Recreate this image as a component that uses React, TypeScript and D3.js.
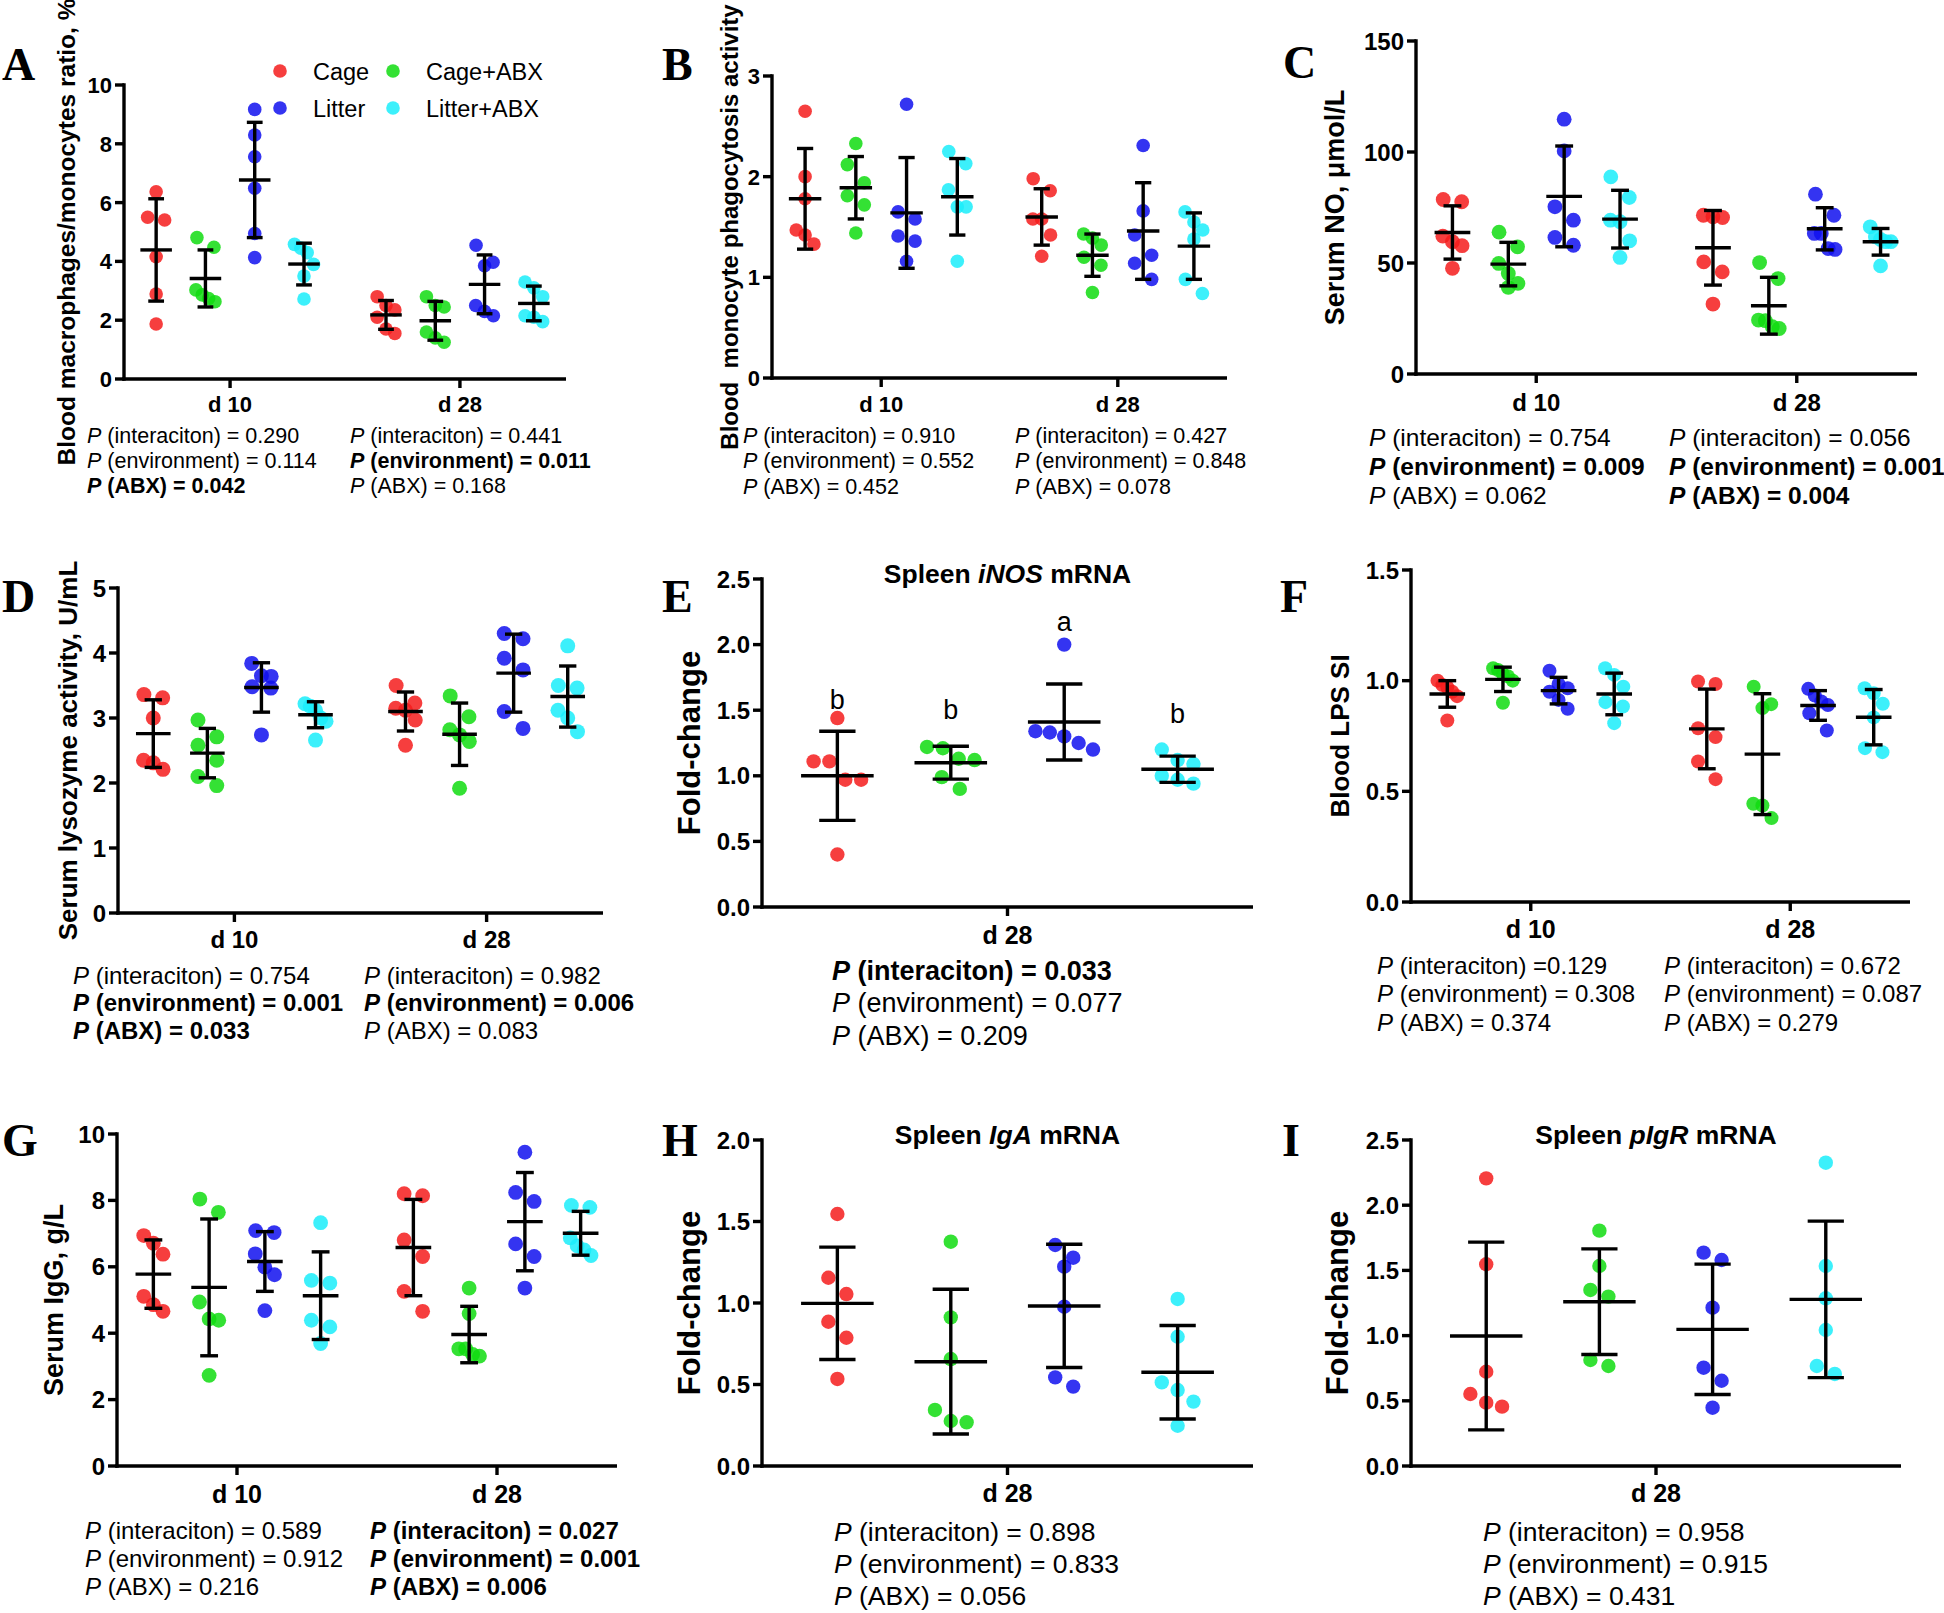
import React from "react";
import * as d3 from "d3";

// ---------- categories ----------
const groups = ["Cage", "Cage+ABX", "Litter", "Litter+ABX"];
const groupColors = ["#f41c1c", "#10dc10", "#1010ee", "#1aedfa"];
const daysTwo = ["d 10", "d 28"];
const daysOne = ["d 28"];

// ---------- A: blood macrophages/monocytes ratio ----------
const A_d10 = [
  [6.37, 5.5, 5.41, 4.16, 2.89, 1.87],
  [4.81, 4.48, 3.03, 2.86, 2.74, 2.63],
  [9.17, 8.3, 7.56, 6.49, 4.95, 4.13],
  [4.58, 4.45, 4.3, 3.9, 3.5, 2.72],
];
const A_d28 = [
  [2.8, 2.5, 2.35, 2.1, 1.7, 1.55],
  [2.8, 2.5, 2.45, 1.6, 1.4, 1.25],
  [4.55, 3.97, 3.85, 2.5, 2.3, 2.15],
  [3.3, 3.1, 2.8, 2.15, 2.1, 1.95],
];
const A_mean = [[4.39, 3.42, 6.77, 3.91], [2.18, 1.98, 3.22, 2.57]];
const A_sd = [[1.74, 0.97, 1.96, 0.71], [0.49, 0.66, 1.0, 0.59]];
const A_p10 = [["(interaciton) = 0.290", false], ["(environment) = 0.114", false], ["(ABX) = 0.042", true]];
const A_p28 = [["(interaciton) = 0.441", false], ["(environment) = 0.011", true], ["(ABX) = 0.168", false]];

// ---------- B: blood monocyte phagocytosis ----------
const B_d10 = [
  [2.65, 2.0, 1.78, 1.47, 1.42, 1.33],
  [2.33, 2.12, 1.94, 1.81, 1.72, 1.44],
  [2.72, 1.65, 1.58, 1.41, 1.36, 1.16],
  [2.25, 2.13, 1.87, 1.7, 1.7, 1.16],
];
const B_d28 = [
  [1.98, 1.86, 1.58, 1.58, 1.42, 1.21],
  [1.43, 1.39, 1.32, 1.2, 1.12, 0.85],
  [2.31, 1.66, 1.42, 1.22, 1.14, 0.98],
  [1.65, 1.55, 1.47, 1.38, 0.98, 0.84],
];
const B_mean = [[1.78, 1.89, 1.64, 1.8], [1.6, 1.22, 1.46, 1.31]];
const B_sd = [[0.5, 0.31, 0.55, 0.38], [0.28, 0.21, 0.48, 0.33]];
const B_p10 = [["(interaciton) = 0.910", false], ["(environment) = 0.552", false], ["(ABX) = 0.452", false]];
const B_p28 = [["(interaciton) = 0.427", false], ["(environment) = 0.848", false], ["(ABX) = 0.078", false]];

// ---------- C: serum NO ----------
const C_d10 = [
  [78.6, 77.6, 62.1, 59.6, 57.8, 47.6],
  [63.9, 57.3, 49.8, 45.3, 40.8, 39.0],
  [114.8, 100.5, 75.3, 69.3, 61.5, 58.0],
  [88.8, 79.5, 69.3, 68.6, 60.0, 52.5],
];
const C_d28 = [
  [71.5, 70.8, 70.5, 50.5, 46.0, 31.5],
  [50.2, 43.0, 24.3, 24.0, 21.3, 20.5],
  [81.0, 71.5, 63.3, 63.3, 56.5, 56.1],
  [66.3, 61.8, 60.6, 59.6, 59.6, 48.7],
];
const C_mean = [[63.75, 49.5, 80.0, 69.75], [56.85, 30.75, 65.4, 59.55]];
const C_sd = [[12.0, 9.8, 22.7, 13.0], [16.8, 12.8, 9.5, 6.0]];
const C_p10 = [["(interaciton) = 0.754", false], ["(environment) = 0.009", true], ["(ABX) = 0.062", false]];
const C_p28 = [["(interaciton) = 0.056", false], ["(environment) = 0.001", true], ["(ABX) = 0.004", true]];

// ---------- D: serum lysozyme ----------
const D_d10 = [
  [3.36, 3.31, 3.0, 2.35, 2.31, 2.21],
  [2.97, 2.71, 2.58, 2.35, 2.1, 1.96],
  [3.84, 3.65, 3.64, 3.48, 3.46, 2.74],
  [3.22, 3.18, 3.12, 3.0, 2.95, 2.66],
];
const D_d28 = [
  [3.5, 3.23, 3.15, 3.12, 2.97, 2.58],
  [3.34, 3.02, 2.82, 2.74, 2.64, 1.92],
  [4.3, 4.22, 3.92, 3.74, 3.1, 2.84],
  [4.11, 3.5, 3.46, 3.12, 3.0, 2.79],
];
const D_mean = [[2.76, 2.46, 3.47, 3.05], [3.1, 2.75, 3.69, 3.33]];
const D_sd = [[0.52, 0.38, 0.38, 0.2], [0.3, 0.48, 0.6, 0.47]];
const D_p10 = [["(interaciton) = 0.754", false], ["(environment) = 0.001", true], ["(ABX) = 0.033", true]];
const D_p28 = [["(interaciton) = 0.982", false], ["(environment) = 0.006", true], ["(ABX) = 0.083", false]];

// ---------- E: spleen iNOS ----------
const E_values = [
  [1.44, 1.11, 1.11, 0.97, 0.97, 0.4],
  [1.22, 1.21, 1.13, 1.12, 0.99, 0.9],
  [2.0, 1.34, 1.33, 1.3, 1.25, 1.2],
  [1.2, 1.12, 1.09, 1.0, 0.97, 0.94],
];
const E_mean = [1.0, 1.1, 1.41, 1.05];
const E_sd = [0.34, 0.125, 0.29, 0.1];
const E_letters = ["b", "b", "a", "b"];
const E_letterValues = [1.58, 1.5, 2.17, 1.47];
const E_p = [["(interaciton) = 0.033", true], ["(environment) = 0.077", false], ["(ABX) = 0.209", false]];

// ---------- F: blood LPS SI ----------
const F_d10 = [
  [1.0, 0.98, 0.97, 0.95, 0.93, 0.82],
  [1.056, 1.048, 1.03, 1.02, 1.0, 0.9],
  [1.045, 0.985, 0.966, 0.95, 0.913, 0.873],
  [1.056, 1.026, 0.973, 0.903, 0.883, 0.808],
];
const F_d28 = [
  [0.996, 0.985, 0.785, 0.745, 0.635, 0.555],
  [0.973, 0.894, 0.876, 0.444, 0.436, 0.379],
  [0.963, 0.933, 0.906, 0.89, 0.853, 0.775],
  [0.966, 0.943, 0.896, 0.834, 0.695, 0.677],
];
const F_mean = [[0.94, 1.006, 0.955, 0.94], [0.782, 0.668, 0.888, 0.835]];
const F_sd = [[0.06, 0.055, 0.06, 0.094], [0.18, 0.273, 0.067, 0.125]];
const F_p10 = [["(interaciton) =0.129", false], ["(environment) = 0.308", false], ["(ABX) = 0.374", false]];
const F_p28 = [["(interaciton) = 0.672", false], ["(environment) = 0.087", false], ["(ABX) = 0.279", false]];

// ---------- G: serum IgG ----------
const G_d10 = [
  [6.94, 6.71, 6.38, 5.11, 4.86, 4.66],
  [8.04, 7.64, 4.94, 4.43, 4.39, 2.73],
  [7.09, 7.03, 6.39, 5.99, 5.76, 4.68],
  [7.33, 5.59, 5.51, 4.39, 4.19, 3.69],
];
const G_d28 = [
  [8.2, 8.14, 6.81, 6.31, 5.26, 4.66],
  [5.36, 4.59, 3.53, 3.53, 3.36, 3.31],
  [9.45, 8.24, 7.97, 6.69, 6.31, 5.36],
  [7.85, 7.79, 6.87, 6.63, 6.51, 6.34],
];
const G_mean = [[5.78, 5.38, 6.16, 5.13], [6.58, 3.96, 7.36, 7.01]];
const G_sd = [[1.03, 2.06, 0.9, 1.32], [1.45, 0.85, 1.48, 0.66]];
const G_p10 = [["(interaciton) = 0.589", false], ["(environment) = 0.912", false], ["(ABX) = 0.216", false]];
const G_p28 = [["(interaciton) = 0.027", true], ["(environment) = 0.001", true], ["(ABX) = 0.006", true]];

// ---------- H: spleen IgA ----------
const H_values = [
  [1.546, 1.155, 1.055, 0.885, 0.787, 0.534],
  [1.376, 0.912, 0.656, 0.344, 0.276, 0.268],
  [1.356, 1.278, 1.223, 0.977, 0.544, 0.487],
  [1.025, 0.793, 0.513, 0.466, 0.395, 0.247],
];
const H_mean = [0.998, 0.64, 0.982, 0.575];
const H_sd = [0.345, 0.444, 0.378, 0.287];
const H_p = [["(interaciton) = 0.898", false], ["(environment) = 0.833", false], ["(ABX) = 0.056", false]];

// ---------- I: spleen pIgR ----------
const I_values = [
  [2.206, 1.547, 0.723, 0.552, 0.486, 0.455],
  [1.805, 1.534, 1.35, 1.299, 0.813, 0.767],
  [1.636, 1.58, 1.214, 0.754, 0.654, 0.447],
  [2.326, 1.534, 1.286, 1.043, 0.767, 0.706],
];
const I_mean = [0.997, 1.26, 1.048, 1.278];
const I_sd = [0.72, 0.405, 0.5, 0.6];
const I_p = [["(interaciton) = 0.958", false], ["(environment) = 0.915", false], ["(ABX) = 0.431", false]];

// ---------- panel table (built from the arrays above + layout) ----------
type PLine = [string, boolean];
type Panel = {
  id: string;
  days: string[];
  values: number[][][];
  mean: number[][];
  sd: number[][];
  yMax: number;
  tickStep: number;
  fmt: string;
  yLabel: string;
  p: PLine[][];
  title?: string[];
  letters?: string[];
  letterValues?: number[];
  L: any;
};

const panels: Panel[] = [
  {
    id: "A", days: daysTwo, values: [A_d10, A_d28], mean: A_mean, sd: A_sd, yMax: 10, tickStep: 2, fmt: "d",
    yLabel: "Blood macrophages/monocytes ratio, %", p: [A_p10 as PLine[], A_p28 as PLine[]],
    L: { axisX: 124, yTop: 85, yBottom: 379, xEnd: 566, letterX: 2, letterY: 80, yLabelX: 66, yLabelSize: 24.5, tickSize: 22, dayY: 412, daySize: 22, pX: [87, 350], pY: 435, pGap: 25, pSize: 21.5, r: 6.8 },
  },
  {
    id: "B", days: daysTwo, values: [B_d10, B_d28], mean: B_mean, sd: B_sd, yMax: 3, tickStep: 1, fmt: "d",
    yLabel: "Blood  monocyte phagocytosis activity", p: [B_p10 as PLine[], B_p28 as PLine[]],
    L: { axisX: 772, yTop: 76, yBottom: 378, xEnd: 1227, letterX: 662, letterY: 80, yLabelX: 729, yLabelSize: 24, tickSize: 22, dayY: 412, daySize: 22, pX: [743, 1015], pY: 435, pGap: 25.5, pSize: 21.5, r: 6.8 },
  },
  {
    id: "C", days: daysTwo, values: [C_d10, C_d28], mean: C_mean, sd: C_sd, yMax: 150, tickStep: 50, fmt: "d",
    yLabel: "Serum NO, μmol/L", p: [C_p10 as PLine[], C_p28 as PLine[]],
    L: { axisX: 1416, yTop: 41, yBottom: 374, xEnd: 1917, letterX: 1283, letterY: 78, yLabelX: 1335, yLabelSize: 27, tickSize: 24, dayY: 411, daySize: 24, pX: [1369, 1669], pY: 437, pGap: 29, pSize: 24.5, r: 7.4 },
  },
  {
    id: "D", days: daysTwo, values: [D_d10, D_d28], mean: D_mean, sd: D_sd, yMax: 5, tickStep: 1, fmt: "d",
    yLabel: "Serum lysozyme activity, U/mL", p: [D_p10 as PLine[], D_p28 as PLine[]],
    L: { axisX: 118, yTop: 588, yBottom: 913, xEnd: 603, letterX: 2, letterY: 612, yLabelX: 68, yLabelSize: 26, tickSize: 24, dayY: 948, daySize: 24, pX: [73, 364], pY: 975, pGap: 27.5, pSize: 24, r: 7.5 },
  },
  {
    id: "E", days: daysOne, values: [E_values], mean: [E_mean], sd: [E_sd], yMax: 2.5, tickStep: 0.5, fmt: ".1f",
    yLabel: "Fold-change", p: [E_p as PLine[]], title: ["Spleen ", "iNOS", " mRNA"], letters: E_letters, letterValues: E_letterValues,
    L: { axisX: 762, yTop: 579, yBottom: 907, xEnd: 1253, letterX: 662, letterY: 612, yLabelX: 689, yLabelSize: 31, tickSize: 24, dayY: 944, daySize: 25, pX: [832], pY: 970, pGap: 32.5, pSize: 27, r: 7.2, titleY: 583 },
  },
  {
    id: "F", days: daysTwo, values: [F_d10, F_d28], mean: F_mean, sd: F_sd, yMax: 1.5, tickStep: 0.5, fmt: ".1f",
    yLabel: "Blood LPS SI", p: [F_p10 as PLine[], F_p28 as PLine[]],
    L: { axisX: 1411, yTop: 570, yBottom: 902, xEnd: 1910, letterX: 1280, letterY: 612, yLabelX: 1340, yLabelSize: 26, tickSize: 24, dayY: 938, daySize: 25, pX: [1377, 1664], pY: 965, pGap: 28.5, pSize: 24, r: 7 },
  },
  {
    id: "G", days: daysTwo, values: [G_d10, G_d28], mean: G_mean, sd: G_sd, yMax: 10, tickStep: 2, fmt: "d",
    yLabel: "Serum IgG, g/L", p: [G_p10 as PLine[], G_p28 as PLine[]],
    L: { axisX: 117, yTop: 1134, yBottom: 1466, xEnd: 617, letterX: 2, letterY: 1156, yLabelX: 54, yLabelSize: 27, tickSize: 24, dayY: 1503, daySize: 25, pX: [85, 370], pY: 1530, pGap: 28, pSize: 24, r: 7.4 },
  },
  {
    id: "H", days: daysOne, values: [H_values], mean: [H_mean], sd: [H_sd], yMax: 2.0, tickStep: 0.5, fmt: ".1f",
    yLabel: "Fold-change", p: [H_p as PLine[]], title: ["Spleen ", "IgA", " mRNA"],
    L: { axisX: 762, yTop: 1140, yBottom: 1466, xEnd: 1253, letterX: 662, letterY: 1156, yLabelX: 689, yLabelSize: 31, tickSize: 24, dayY: 1502, daySize: 25, pX: [834], pY: 1531, pGap: 32, pSize: 26.5, r: 7.2, titleY: 1144 },
  },
  {
    id: "I", days: daysOne, values: [I_values], mean: [I_mean], sd: [I_sd], yMax: 2.5, tickStep: 0.5, fmt: ".1f",
    yLabel: "Fold-change", p: [I_p as PLine[]], title: ["Spleen ", "pIgR", " mRNA"],
    L: { axisX: 1411, yTop: 1140, yBottom: 1466, xEnd: 1901, letterX: 1282, letterY: 1156, yLabelX: 1337, yLabelSize: 31, tickSize: 24, dayY: 1502, daySize: 25, pX: [1483], pY: 1531, pGap: 32, pSize: 26.5, r: 7.2, titleY: 1144 },
  },
];

const SANS = "'Liberation Sans', Arial, Helvetica, sans-serif";
const SERIF = "'Liberation Serif', 'Times New Roman', serif";

// Prism-like scatter: points within ~3 radii share a row and are spread symmetrically
function swarmOffsets(vals: number[], y: (v: number) => number, r: number, wide: boolean): number[] {
  const order = vals.map((_, i) => i).sort((a, b) => vals[b] - vals[a]);
  const rows: number[][] = [];
  let cur: number[] = [];
  let startPy = 0;
  for (const i of order) {
    const py = y(vals[i]);
    if (cur.length && Math.abs(py - startPy) < 3 * r) cur.push(i);
    else {
      if (cur.length) rows.push(cur);
      cur = [i];
      startPy = py;
    }
  }
  if (cur.length) rows.push(cur);
  const off = new Array(vals.length).fill(0);
  rows.forEach((row) => {
    const n = row.length;
    if (n < 2) return;
    let step: number;
    if (n === 2) step = 2.5 * r;
    else if (wide) step = Math.min(2.2 * r, (8 * r) / (n - 1));
    else step = Math.min(1.3 * r, (2.8 * r) / (n - 1));
    row.forEach((i, k) => (off[i] = (k - (n - 1) / 2) * step));
  });
  return off;
}

function PanelView({ p }: { p: Panel }) {
  const L = p.L;
  const W = L.xEnd - L.axisX;
  const y = d3.scaleLinear().domain([0, p.yMax]).range([L.yBottom, L.yTop]);
  const single = p.days.length === 1;
  const dayX = d3
    .scalePoint<string>()
    .domain(p.days)
    .range([L.axisX, L.xEnd])
    .padding(single ? 0.5 : 0.4615);
  const s = (single ? 0.231 : 0.1115) * W;
  const gx = d3.scalePoint<string>().domain(groups).range([-1.5 * s, 1.5 * s]);
  const meanHalf = 0.32 * s;
  const capHalf = 0.16 * s;
  const ticks = d3.range(0, p.yMax + p.tickStep / 2, p.tickStep);
  const fmt = d3.format(p.fmt);
  const axisMid = (L.yTop + L.yBottom) / 2;
  const cx = (L.axisX + L.xEnd) / 2;

  return (
    <g>
      <text x={L.letterX} y={L.letterY} fontFamily={SERIF} fontWeight="bold" fontSize={46}>
        {p.id}
      </text>
      {p.title && (
        <text x={cx} y={L.titleY} textAnchor="middle" fontFamily={SANS} fontWeight="bold" fontSize={26.5}>
          <tspan>{p.title[0]}</tspan>
          <tspan fontStyle="italic">{p.title[1]}</tspan>
          <tspan>{p.title[2]}</tspan>
        </text>
      )}
      <text
        transform={`translate(${L.yLabelX},${axisMid}) rotate(-90)`}
        textAnchor="middle"
        dominantBaseline="central"
        fontFamily={SANS}
        fontWeight="bold"
        fontSize={L.yLabelSize}
        style={{ whiteSpace: "pre" }}
      >
        {p.yLabel}
      </text>
      {p.days.map((d, di) =>
        groups.map((g, gi) => {
          const vals = p.values[di][gi];
          const offs = swarmOffsets(vals, y, L.r, single);
          const x0 = (dayX(d) as number) + (gx(g) as number);
          return vals.map((v, k) => (
            <circle key={`${d}-${g}-${k}`} cx={x0 + offs[k]} cy={y(v)} r={L.r} fill={groupColors[gi]} fillOpacity={0.85} />
          ));
        })
      )}
      {p.days.map((d, di) =>
        groups.map((g, gi) => {
          const x0 = (dayX(d) as number) + (gx(g) as number);
          const m = p.mean[di][gi];
          const sd = p.sd[di][gi];
          return (
            <g key={`eb-${d}-${g}`} stroke="#000" strokeWidth={3.4} fill="none">
              <line x1={x0} x2={x0} y1={y(m + sd)} y2={y(m - sd)} />
              <line x1={x0 - capHalf} x2={x0 + capHalf} y1={y(m + sd)} y2={y(m + sd)} />
              <line x1={x0 - capHalf} x2={x0 + capHalf} y1={y(m - sd)} y2={y(m - sd)} />
              <line x1={x0 - meanHalf} x2={x0 + meanHalf} y1={y(m)} y2={y(m)} />
            </g>
          );
        })
      )}
      {p.letters &&
        p.letters.map((t, gi) => (
          <text
            key={`lt-${gi}`}
            x={(dayX(p.days[0]) as number) + (gx(groups[gi]) as number)}
            y={y(p.letterValues![gi]) + 9}
            textAnchor="middle"
            fontFamily={SANS}
            fontSize={27}
          >
            {t}
          </text>
        ))}
      <g stroke="#000" strokeWidth={3.4}>
        <line x1={L.axisX} x2={L.axisX} y1={L.yTop - 1.7} y2={L.yBottom + 1.7} />
        <line x1={L.axisX - 1.7} x2={L.xEnd} y1={L.yBottom} y2={L.yBottom} />
        {ticks.map((t) => (
          <line key={`yt-${t}`} x1={L.axisX - 9} x2={L.axisX} y1={y(t)} y2={y(t)} />
        ))}
        {p.days.map((d) => (
          <line key={`xt-${d}`} x1={dayX(d)} x2={dayX(d)} y1={L.yBottom} y2={L.yBottom + 9} />
        ))}
      </g>
      {ticks.map((t) => (
        <text
          key={`ytl-${t}`}
          x={L.axisX - 12}
          y={y(t) + L.tickSize * 0.36}
          textAnchor="end"
          fontFamily={SANS}
          fontWeight="bold"
          fontSize={L.tickSize}
        >
          {fmt(t)}
        </text>
      ))}
      {p.days.map((d) => (
        <text key={`xtl-${d}`} x={dayX(d)} y={L.dayY} textAnchor="middle" fontFamily={SANS} fontWeight="bold" fontSize={L.daySize}>
          {d}
        </text>
      ))}
      {p.p.map((lines, di) =>
        lines.map(([txt, bold], li) => (
          <text
            key={`p-${di}-${li}`}
            x={L.pX[di]}
            y={L.pY + li * L.pGap + L.pSize * 0.36}
            fontFamily={SANS}
            fontSize={L.pSize}
            fontWeight={bold ? "bold" : "normal"}
            style={{ whiteSpace: "pre" }}
          >
            <tspan fontStyle="italic">P</tspan>
            <tspan>{" " + txt}</tspan>
          </text>
        ))
      )}
    </g>
  );
}

function Legend() {
  const col = d3.scalePoint<number>().domain([0, 1]).range([280, 393]);
  const row = d3.scalePoint<number>().domain([0, 1]).range([71, 108]);
  return (
    <g>
      {groups.map((g, gi) => {
        const c = gi % 2;
        const r = Math.floor(gi / 2);
        return (
          <g key={g}>
            <circle cx={col(c)} cy={row(r)} r={6.8} fill={groupColors[gi]} fillOpacity={0.85} />
            <text x={(col(c) as number) + 33} y={(row(r) as number) + 8.5} fontFamily={SANS} fontSize={23.5}>
              {g}
            </text>
          </g>
        );
      })}
    </g>
  );
}

export default function App() {
  return (
    <svg
      width={1944}
      height={1613}
      viewBox="0 0 1944 1613"
      style={{ position: "absolute", left: 0, top: 0, background: "#fff" }}
    >
      <rect width={1944} height={1613} fill="#fff" />
      {panels.map((p) => (
        <PanelView key={p.id} p={p} />
      ))}
      <Legend />
    </svg>
  );
}
